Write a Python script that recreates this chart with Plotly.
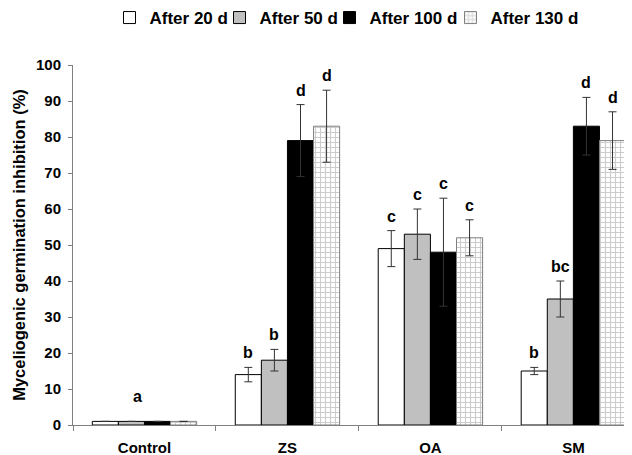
import plotly.graph_objects as go

categories = ["Control", "ZS", "OA", "SM"]
series_names = ["After 20 d", "After 50 d", "After 100 d", "After 130 d"]

after20 = [1, 14, 49, 15]
after50 = [1, 18, 53, 35]
after100 = [1, 79, 48, 83]
after130 = [1, 83, 52, 79]

err20 = [0, 2, 5, 1]
err50 = [0, 3, 7, 5]
err100 = [0, 10, 15, 8]
err130 = [0, 10, 5, 8]

letters20 = ["", "b", "c", "b"]
letters50 = ["", "b", "c", "bc"]
letters100 = ["", "d", "c", "d"]
letters130 = ["", "d", "c", "d"]
control_letter = "a"

yticks = [0, 10, 20, 30, 40, 50, 60, 70, 80, 90, 100]

FONT = "Arial, Liberation Sans, sans-serif"

values = [after20, after50, after100, after130]
errors = [err20, err50, err100, err130]
letters = [letters20, letters50, letters100, letters130]

styles = [
    dict(color="white", line=dict(color="black", width=1)),
    dict(color="#c0c0c0", line=dict(color="black", width=1)),
    dict(color="black", line=dict(color="black", width=1)),
    dict(color="white", line=dict(color="#808080", width=1),
         pattern=dict(shape="+", fgcolor="#999999", bgcolor="white", size=5, solidity=0.4)),
]
legend_widths = [65, 65, 76, 100]

fig = go.Figure()
for name, v, e, st, lw in zip(series_names, values, errors, styles, legend_widths):
    fig.add_trace(go.Bar(
        x=categories, y=v, name=name, marker=st, legendwidth=lw,
        error_y=dict(type="data", array=e, color="#333333", thickness=1, width=4),
    ))

bargap = 0.27
n = len(series_names)
bw = (1 - bargap) / n
annotations = []
for i, (v, e, lt) in enumerate(zip(values, errors, letters)):
    off = -(1 - bargap) / 2 + bw * (i + 0.5)
    for j in range(len(categories)):
        if lt[j]:
            annotations.append(dict(
                x=j + off, y=v[j] + e[j], xref="x", yref="y", text="<b>%s</b>" % lt[j],
                showarrow=False, yanchor="bottom", yshift=4,
                font=dict(family=FONT, size=16, color="black")))
annotations.append(dict(
    x=-0.05, y=max(v[0] + e[0] for v, e in zip(values, errors)), xref="x", yref="y",
    text="<b>%s</b>" % control_letter, showarrow=False, yanchor="bottom", yshift=14,
    font=dict(family=FONT, size=16, color="black")))

# the page body has an 8px default margin; margins below compensate for it
fig.update_layout(
    width=632, height=455,
    margin=dict(l=65, r=8, t=57, b=38),
    paper_bgcolor="white", plot_bgcolor="white",
    barmode="group", bargap=bargap, bargroupgap=0,
    font=dict(family=FONT, color="black"),
    showlegend=True,
    legend=dict(orientation="h", x=0.5, xanchor="center",
                yref="container", y=0.978, yanchor="middle",
                font=dict(family=FONT, size=17, color="black", weight="bold"),
                itemwidth=30, tracegroupgap=0),
    annotations=annotations,
)
fig.update_xaxes(
    type="category", range=[-0.5, 3.41], automargin=False,
    showline=True, linecolor="#808080", linewidth=1,
    ticks="outside", tickson="boundaries", ticklen=5, tickcolor="#808080",
    tickfont=dict(family=FONT, size=15, color="black", weight="bold"),
    ticklabelstandoff=9,
    showgrid=False, zeroline=False,
)
fig.update_yaxes(
    range=[0, 100], tickvals=yticks, automargin=False,
    showline=True, linecolor="#808080", linewidth=1,
    ticks="outside", ticklen=4, tickcolor="#808080",
    tickfont=dict(family=FONT, size=15, color="black", weight="bold"),
    ticklabelstandoff=4,
    showgrid=False, zeroline=False,
    title=dict(text="<b>Myceliogenic germination inhibition (%)</b>",
               font=dict(family=FONT, size=16.5, color="black"), standoff=6),
)

fig.write_html("out.html")
